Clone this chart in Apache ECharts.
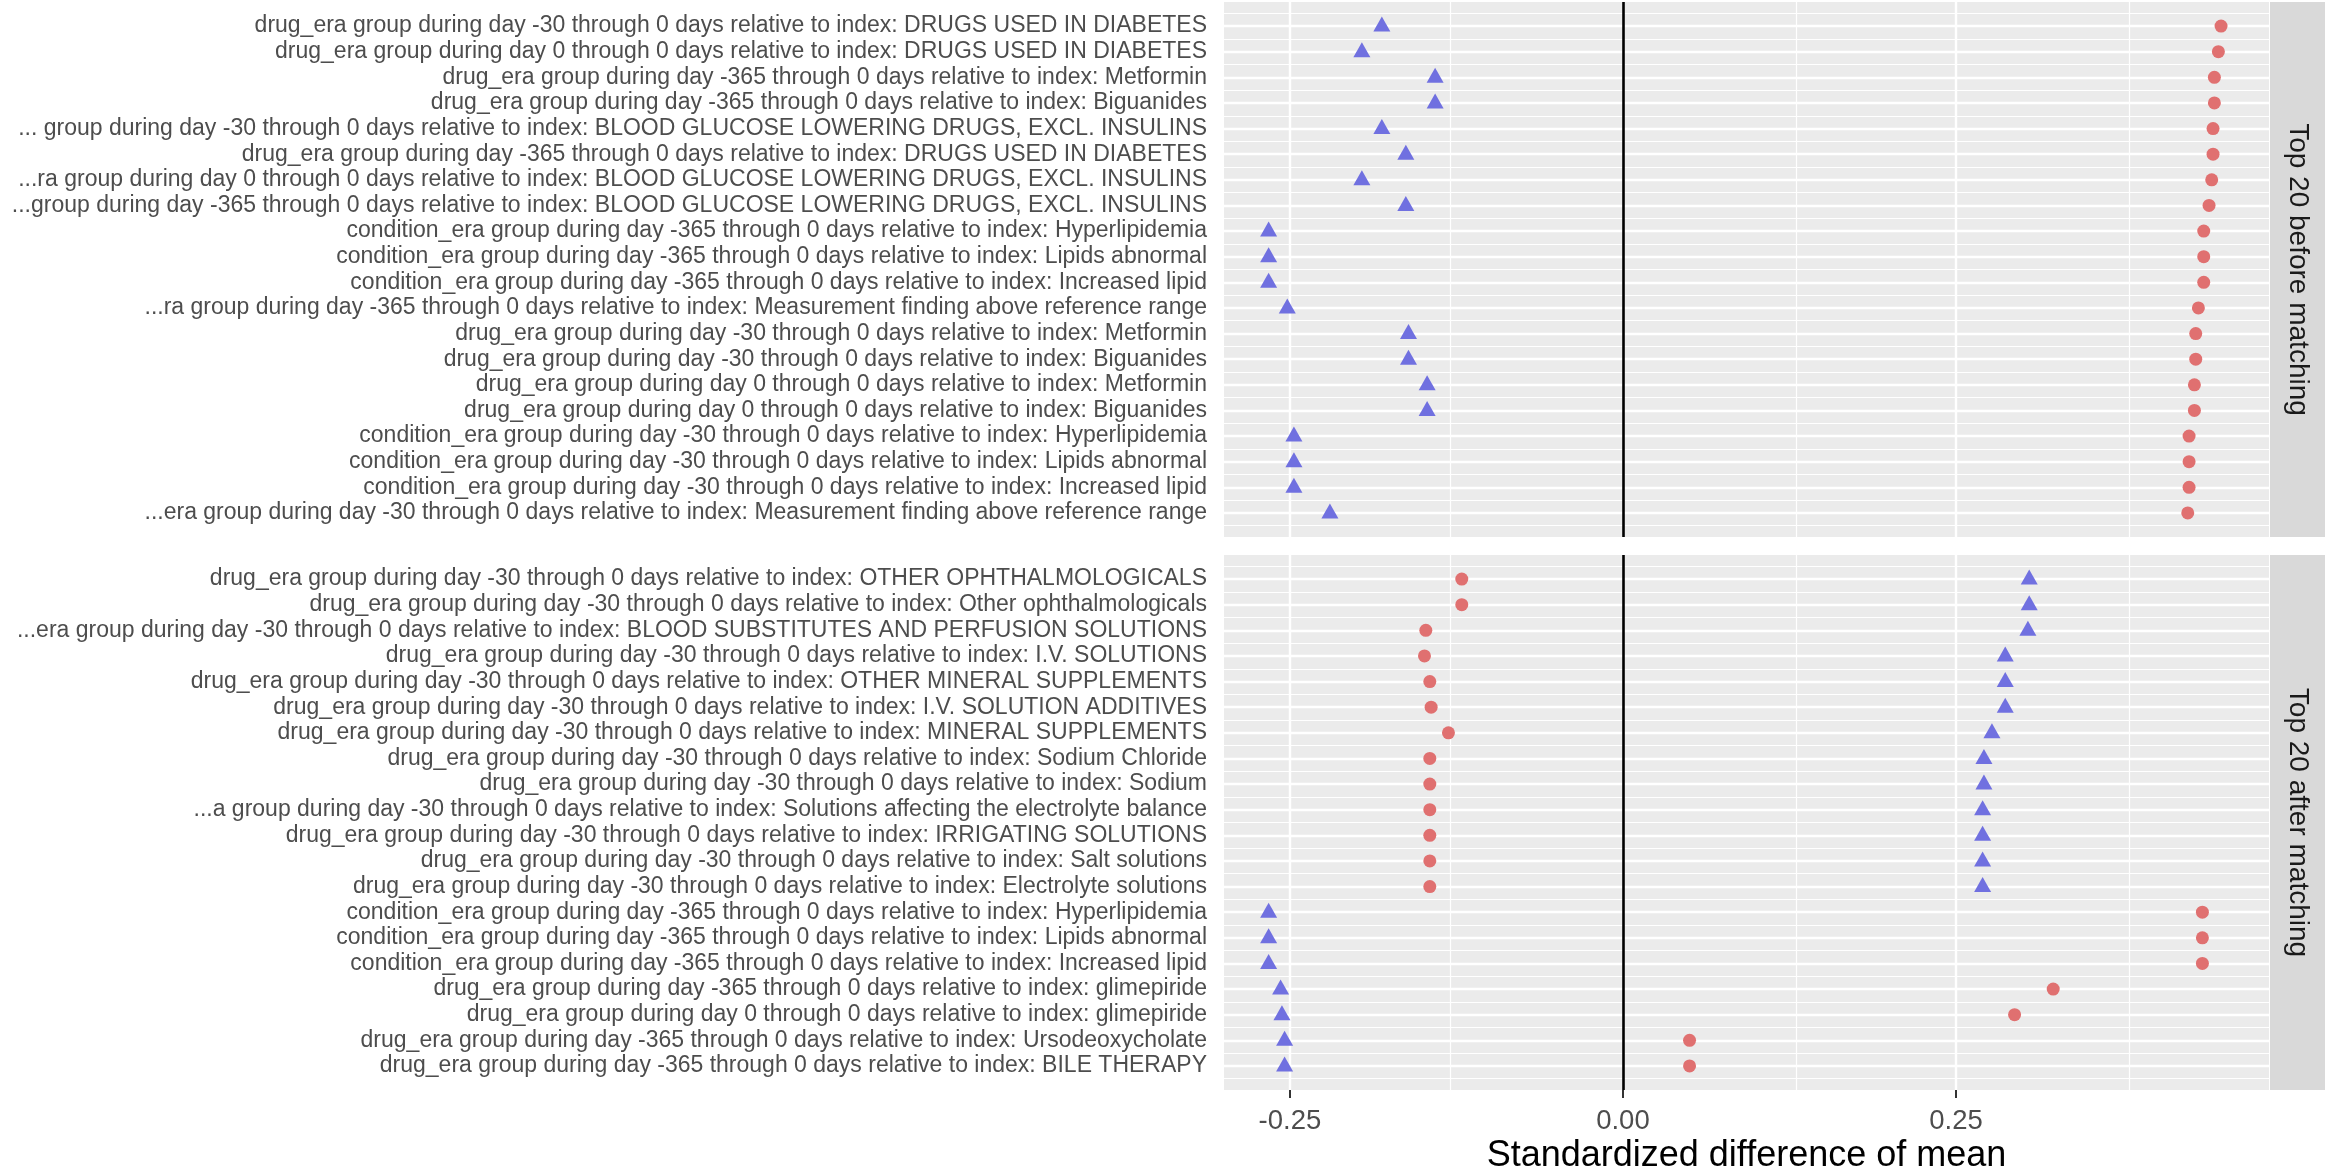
<!DOCTYPE html>
<html>
<head>
<meta charset="utf-8">
<script src="https://cdn.jsdelivr.net/npm/echarts@6/dist/echarts.min.js"></script>
<style>
html,body{margin:0;padding:0;background:#fff;}
#chart{width:2331px;height:1169px;}
</style>
</head>
<body>
<div id="chart"></div>
<script>
// ---------- data ----------
const topLabels = [
  "drug_era group during day -30 through 0 days relative to index: DRUGS USED IN DIABETES",
  "drug_era group during day 0 through 0 days relative to index: DRUGS USED IN DIABETES",
  "drug_era group during day -365 through 0 days relative to index: Metformin",
  "drug_era group during day -365 through 0 days relative to index: Biguanides",
  "... group during day -30 through 0 days relative to index: BLOOD GLUCOSE LOWERING DRUGS, EXCL. INSULINS",
  "drug_era group during day -365 through 0 days relative to index: DRUGS USED IN DIABETES",
  "...ra group during day 0 through 0 days relative to index: BLOOD GLUCOSE LOWERING DRUGS, EXCL. INSULINS",
  "...group during day -365 through 0 days relative to index: BLOOD GLUCOSE LOWERING DRUGS, EXCL. INSULINS",
  "condition_era group during day -365 through 0 days relative to index: Hyperlipidemia",
  "condition_era group during day -365 through 0 days relative to index: Lipids abnormal",
  "condition_era group during day -365 through 0 days relative to index: Increased lipid",
  "...ra group during day -365 through 0 days relative to index: Measurement finding above reference range",
  "drug_era group during day -30 through 0 days relative to index: Metformin",
  "drug_era group during day -30 through 0 days relative to index: Biguanides",
  "drug_era group during day 0 through 0 days relative to index: Metformin",
  "drug_era group during day 0 through 0 days relative to index: Biguanides",
  "condition_era group during day -30 through 0 days relative to index: Hyperlipidemia",
  "condition_era group during day -30 through 0 days relative to index: Lipids abnormal",
  "condition_era group during day -30 through 0 days relative to index: Increased lipid",
  "...era group during day -30 through 0 days relative to index: Measurement finding above reference range"
];
const topBefore = [0.449, 0.447, 0.444, 0.444, 0.443, 0.443, 0.442, 0.440, 0.436, 0.436,
                   0.436, 0.432, 0.430, 0.430, 0.429, 0.429, 0.425, 0.425, 0.425, 0.424];
const topAfter  = [-0.181, -0.196, -0.141, -0.141, -0.181, -0.163, -0.196, -0.163, -0.266, -0.266,
                   -0.266, -0.252, -0.161, -0.161, -0.147, -0.147, -0.247, -0.247, -0.247, -0.220];

const bottomLabels = [
  "drug_era group during day -30 through 0 days relative to index: OTHER OPHTHALMOLOGICALS",
  "drug_era group during day -30 through 0 days relative to index: Other ophthalmologicals",
  "...era group during day -30 through 0 days relative to index: BLOOD SUBSTITUTES AND PERFUSION SOLUTIONS",
  "drug_era group during day -30 through 0 days relative to index: I.V. SOLUTIONS",
  "drug_era group during day -30 through 0 days relative to index: OTHER MINERAL SUPPLEMENTS",
  "drug_era group during day -30 through 0 days relative to index: I.V. SOLUTION ADDITIVES",
  "drug_era group during day -30 through 0 days relative to index: MINERAL SUPPLEMENTS",
  "drug_era group during day -30 through 0 days relative to index: Sodium Chloride",
  "drug_era group during day -30 through 0 days relative to index: Sodium",
  "...a group during day -30 through 0 days relative to index: Solutions affecting the electrolyte balance",
  "drug_era group during day -30 through 0 days relative to index: IRRIGATING SOLUTIONS",
  "drug_era group during day -30 through 0 days relative to index: Salt solutions",
  "drug_era group during day -30 through 0 days relative to index: Electrolyte solutions",
  "condition_era group during day -365 through 0 days relative to index: Hyperlipidemia",
  "condition_era group during day -365 through 0 days relative to index: Lipids abnormal",
  "condition_era group during day -365 through 0 days relative to index: Increased lipid",
  "drug_era group during day -365 through 0 days relative to index: glimepiride",
  "drug_era group during day 0 through 0 days relative to index: glimepiride",
  "drug_era group during day -365 through 0 days relative to index: Ursodeoxycholate",
  "drug_era group during day -365 through 0 days relative to index: BILE THERAPY"
];
const bottomBefore = [-0.121, -0.121, -0.148, -0.149, -0.145, -0.144, -0.131, -0.145, -0.145, -0.145,
                      -0.145, -0.145, -0.145, 0.435, 0.435, 0.435, 0.323, 0.294, 0.050, 0.050];
const bottomAfter  = [0.305, 0.305, 0.304, 0.287, 0.287, 0.287, 0.277, 0.271, 0.271, 0.270,
                      0.270, 0.270, 0.270, -0.266, -0.266, -0.266, -0.257, -0.256, -0.254, -0.254];

const panelTitles = ["Top 20 before matching", "Top 20 after matching"];
const xTickValues = [-0.25, 0, 0.25];
const xTickLabels = ["-0.25", "0.00", "0.25"];
const xMinorValues = [-0.125, 0.125, 0.375];
const xTitle = "Standardized difference of mean";

// ---------- layout ----------
const FONT = "Liberation Sans, Arial, sans-serif";
const PANEL_LEFT = 1224, PANEL_RIGHT = 2269, PANEL_H = 535;
const PANEL_TOPS = [2, 555];
const XMIN = -0.2995, XMAX = 0.485;
const YPAD = 0.94;
const STRIP_W = 55;

const chart = echarts.init(document.getElementById('chart'), null, {renderer: 'canvas'});

const panels = [
  {labels: topLabels, before: topBefore, after: topAfter},
  {labels: bottomLabels, before: bottomBefore, after: bottomAfter}
];

const grids = [], xAxes = [], yAxes = [], series = [], graphics = [];

panels.forEach((p, gi) => {
  const n = p.labels.length;
  const idx = p.labels.map((_, i) => i + 1);
  const showX = gi === panels.length - 1;
  grids.push({
    left: PANEL_LEFT, right: 2331 - PANEL_RIGHT, top: PANEL_TOPS[gi], height: PANEL_H,
    show: true, backgroundColor: '#EBEBEB', borderWidth: 0,
    containLabel: false, outerBoundsMode: 'none'
  });
  xAxes.push({
    type: 'value', gridIndex: gi, min: XMIN, max: XMAX,
    splitLine: {show: false}, axisLine: {show: false},
    axisTick: {show: showX, customValues: xTickValues, length: 8, lineStyle: {color: '#333333', width: 2}},
    axisLabel: {show: showX, customValues: xTickValues,
      formatter: v => xTickLabels[xTickValues.findIndex(t => Math.abs(t - v) < 1e-9)],
      color: '#4D4D4D', fontSize: 27.5, fontFamily: FONT, margin: 17},
    name: showX ? xTitle : '', nameLocation: 'middle', nameGap: 48,
    nameTextStyle: {color: '#000000', fontSize: 36, fontFamily: FONT}
  });
  yAxes.push({
    type: 'value', gridIndex: gi, inverse: true, min: 1 - YPAD, max: n + YPAD,
    splitLine: {show: false}, axisLine: {show: false},
    axisTick: {show: true, customValues: idx, length: 8, lineStyle: {color: '#333333', width: 2}},
    axisLabel: {customValues: idx, formatter: v => p.labels[Math.round(v) - 1],
      color: '#4D4D4D', fontSize: 23, fontFamily: FONT, margin: 17}
  });
  // grid lines (panel decoration) derived from category positions and tick values
  const gridLines = [];
  idx.forEach(i => gridLines.push({yAxis: i - 0.5, lineStyle: {color: '#FFFFFF', width: 1.2, type: 'solid'}}));
  gridLines.push({yAxis: n + 0.5, lineStyle: {color: '#FFFFFF', width: 1.2, type: 'solid'}});
  xMinorValues.forEach(v => gridLines.push({xAxis: v, lineStyle: {color: '#FFFFFF', width: 1.2, type: 'solid'}}));
  idx.forEach(i => gridLines.push({yAxis: i, lineStyle: {color: '#FFFFFF', width: 2.4, type: 'solid'}}));
  xTickValues.filter(v => v !== 0).forEach(v => gridLines.push({xAxis: v, lineStyle: {color: '#FFFFFF', width: 2.4, type: 'solid'}}));
  gridLines.push({xAxis: 0, lineStyle: {color: '#000000', width: 2.6, type: 'solid'}});
  series.push({
    type: 'scatter', xAxisIndex: gi, yAxisIndex: gi, data: [], z: 1, silent: true,
    markLine: {silent: true, symbol: ['none', 'none'], label: {show: false}, animation: false, data: gridLines}
  });
  series.push({
    name: 'before', type: 'scatter', xAxisIndex: gi, yAxisIndex: gi, z: 5,
    symbol: 'circle', symbolSize: 13,
    itemStyle: {color: '#E07070', opacity: 1},
    data: p.before.map((v, i) => [v, i + 1])
  });
  series.push({
    name: 'after', type: 'scatter', xAxisIndex: gi, yAxisIndex: gi, z: 5,
    symbol: 'triangle', symbolSize: [17, 15], symbolOffset: [0, -2],
    itemStyle: {color: '#7070E0', opacity: 1},
    data: p.after.map((v, i) => [v, i + 1])
  });
  // facet strip
  graphics.push({
    type: 'rect', shape: {x: PANEL_RIGHT + 1, y: PANEL_TOPS[gi], width: STRIP_W, height: PANEL_H},
    style: {fill: '#D9D9D9'}, silent: true
  });
  graphics.push({
    type: 'text', x: PANEL_RIGHT + 1 + STRIP_W / 2, y: PANEL_TOPS[gi] + PANEL_H / 2,
    rotation: -Math.PI / 2,
    style: {text: panelTitles[gi], fill: '#1A1A1A', font: '28px ' + FONT, align: 'center', verticalAlign: 'middle'},
    silent: true
  });
});

chart.setOption({
  animation: false,
  backgroundColor: '#FFFFFF',
  grid: grids, xAxis: xAxes, yAxis: yAxes, series: series, graphic: graphics
});
</script>
</body>
</html>
